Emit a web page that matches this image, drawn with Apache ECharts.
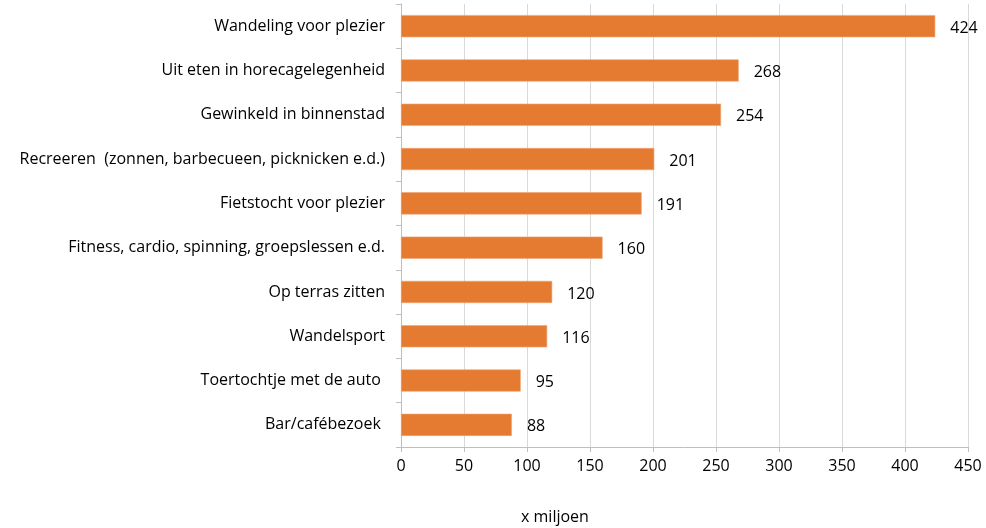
<!DOCTYPE html>
<html>
<head>
<meta charset="utf-8">
<script src="https://cdn.jsdelivr.net/npm/echarts@6/dist/echarts.min.js"></script>
<style>
  html, body { margin: 0; padding: 0; background: #fff; }
  #chart { width: 986px; height: 528px; }
</style>
</head>
<body>
<div id="chart"></div>
<script>
const categories = [
    'Wandeling voor plezier',
    'Uit eten in horecagelegenheid',
    'Gewinkeld in binnenstad',
    'Recreeren  (zonnen, barbecueen, picknicken e.d.)',
    'Fietstocht voor plezier',
    'Fitness, cardio, spinning, groepslessen e.d.',
    'Op terras zitten',
    'Wandelsport',
    'Toertochtje met de auto ',
    'Bar/cafébezoek ',
];
const values = [424, 268, 254, 201, 191, 160, 120, 116, 95, 88];
const axisTitle = 'x miljoen';

const chart = echarts.init(document.getElementById('chart'));
const font = '"Open Sans", sans-serif';

chart.setOption({
    animation: false,
    textStyle: { fontFamily: font },
    grid: {
        left: 401,
        right: 18,
        top: 4,
        bottom: 81,
        containLabel: false,
    },
    graphic: [{
        type: 'text',
        left: 521,
        top: 509,
        style: { text: axisTitle, font: '16px ' + font, fill: '#000' },
    }],
    xAxis: {
        type: 'value',
        min: 0,
        max: 450,
        interval: 50,
        axisLine: { show: true, lineStyle: { color: '#bfbfbf' } },
        axisTick: { show: true, length: 5, lineStyle: { color: '#bfbfbf' } },
        axisLabel: { color: '#000', fontSize: 16, margin: 11 },
        splitLine: { show: true, lineStyle: { color: '#d9d9d9' } },
    },
    yAxis: {
        type: 'category',
        inverse: true,
        data: categories,
        axisLine: { show: true, lineStyle: { color: '#bfbfbf' } },
        axisTick: { show: true, length: 5, lineStyle: { color: '#bfbfbf' } },
        axisLabel: { color: '#000', fontSize: 16, margin: 16 },
    },
    series: [{
        type: 'bar',
        data: values,
        barWidth: '50%',
        itemStyle: { color: '#e57a31', borderColor: '#f0a574', borderWidth: 0.6 },
        label: {
            show: true,
            position: 'right',
            distance: 15,
            offset: [0, 2],
            color: '#000',
            fontSize: 16,
        },
    }],
});
</script>
</body>
</html>
